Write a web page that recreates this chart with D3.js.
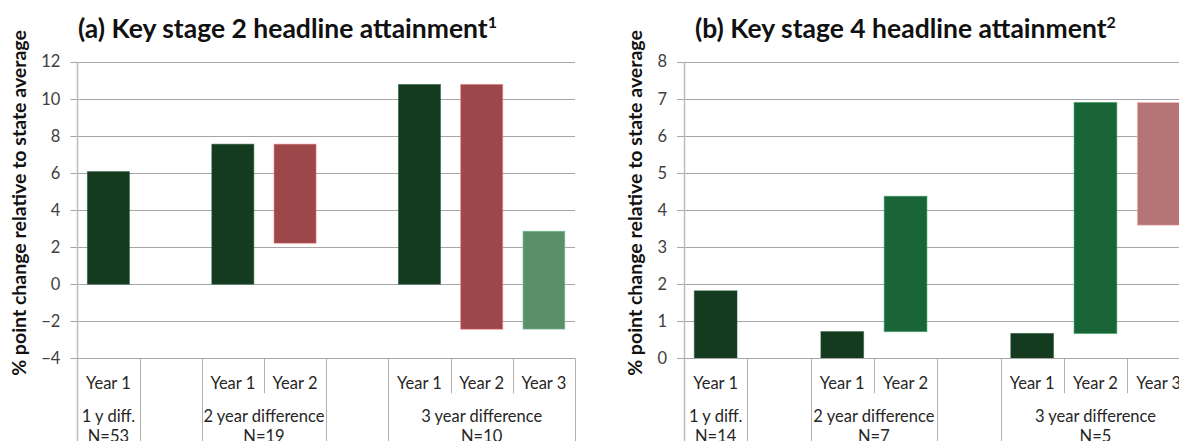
<!DOCTYPE html>
<html>
<head>
<meta charset="utf-8">
<script src="https://cdn.jsdelivr.net/npm/d3@7"></script>
<style>
  html, body { margin: 0; padding: 0; background: #fff; }
  svg { display: block; font-family: Lato, "Open Sans", sans-serif; }
</style>
</head>
<body>
<svg id="chart" width="1179" height="441"></svg>
<script>
// Slots along each category axis (blank slots separate the groups)
const slotLabels = ["Year 1", "", "Year 1", "Year 2", "", "Year 1", "Year 2", "Year 3"];
// Groups of slots on the second axis row: [first slot, slot after last]
const groupSpans = [[0, 1], [1, 2], [2, 4], [4, 5], [5, 8]];
const groupNames = ["1 y diff.", "", "2 year difference", "", "3 year difference"];
const ks2GroupN = ["N=53", "", "N=19", "", "N=10"];
const ks4GroupN = ["N=14", "", "N=7", "", "N=5"];

// Which slot each floating bar sits in
const barSlots = [0, 2, 3, 5, 6, 7];

// Key stage 2: floating bars, low and high ends (% points vs state average)
const ks2Low  = [0, 0, 2.21, 0, -2.43, -2.43];
const ks2High = [6.07, 7.55, 7.55, 10.77, 10.77, 2.86];
const ks2Ticks = [-4, -2, 0, 2, 4, 6, 8, 10, 12];

// Key stage 4
const ks4Low  = [0, 0, 0.72, 0, 0.67, 3.59];
const ks4High = [1.82, 0.72, 4.37, 0.67, 6.9, 6.9];
const ks4Ticks = [0, 1, 2, 3, 4, 5, 6, 7, 8];

const DARK = "#143a1f", RED = "#9c484a", LIGHT = "#5c8e6a", MID = "#1a6537", PINK = "#b57577";
const ks2Colors = [DARK, DARK, RED, DARK, RED, LIGHT];
const ks4Colors = [DARK, DARK, MID, DARK, MID, PINK];

const LABEL_SIZE = 16.5;

const svg = d3.select("#chart");

function panel(opts) {
  const g = svg.append("g");
  const { x0, x1, yTop, yBottom } = opts;
  const y = d3.scaleLinear().domain(d3.extent(opts.ticks)).range([yBottom, yTop]);
  const x = d3.scaleBand().domain(d3.range(slotLabels.length)).range([x0, x1])
    .paddingInner(0.325).paddingOuter(0.1625);

  // horizontal gridlines with short outer ticks
  g.append("g").selectAll("line").data(opts.ticks).join("line")
    .attr("x1", x0 - 7).attr("x2", x1)
    .attr("y1", d => Math.round(y(d)) + 0.5).attr("y2", d => Math.round(y(d)) + 0.5)
    .attr("stroke", "#a6a6a6").attr("stroke-width", 1);

  // value axis labels
  const ax = g.append("g").attr("transform", `translate(${x0},0)`)
    .call(d3.axisLeft(y).tickValues(opts.ticks).tickSize(7).tickPadding(10).tickFormat(d3.format("d")));
  ax.select(".domain").remove();
  ax.selectAll(".tick line").remove();
  ax.selectAll("text").attr("font-family", "Lato, sans-serif").attr("font-size", LABEL_SIZE).attr("fill", "#404040");

  // bars
  g.append("g").selectAll("rect").data(barSlots).join("rect")
    .attr("x", (s, i) => x(s))
    .attr("width", x.bandwidth())
    .attr("y", (s, i) => y(opts.high[i]))
    .attr("height", (s, i) => y(opts.low[i]) - y(opts.high[i]))
    .attr("fill", (s, i) => opts.colors[i])
    .attr("stroke", (s, i) => d3.color(opts.colors[i]).brighter(1.2))
    .attr("stroke-opacity", 0.55)
    .attr("stroke-width", 1);

  // vertical value axis line, continuing down through the category rows
  const step = x.step();
  g.append("line").attr("x1", Math.round(x0) + 0.5).attr("x2", Math.round(x0) + 0.5)
    .attr("y1", yTop).attr("y2", 441)
    .attr("stroke", "#bdbdbd").attr("stroke-width", 1.5);

  // category axis baseline
  g.append("line").attr("x1", x0).attr("x2", x1)
    .attr("y1", Math.round(yBottom) + 0.5).attr("y2", Math.round(yBottom) + 0.5)
    .attr("stroke", "#a6a6a6");

  // slot dividers: short inside groups, full height at group edges
  const groupEdges = new Set(groupSpans.flat());
  const dividers = d3.range(1, slotLabels.length + 1);
  g.append("g").selectAll("line").data(dividers).join("line")
    .attr("x1", d => Math.round(x0 + d * step) + 0.5)
    .attr("x2", d => Math.round(x0 + d * step) + 0.5)
    .attr("y1", yBottom)
    .attr("y2", d => groupEdges.has(d) ? 441 : yBottom + 35)
    .attr("stroke", "#b0b0b0");

  // first row: year labels
  g.append("g").selectAll("text").data(slotLabels).join("text")
    .attr("x", (d, i) => x0 + (i + 0.5) * step)
    .attr("y", yBottom + 31)
    .attr("text-anchor", "middle")
    .attr("font-size", LABEL_SIZE).attr("fill", "#262626")
    .text(d => d);

  // second row: group names and sample sizes
  const grp = g.append("g").selectAll("text").data(groupSpans).join("text")
    .attr("text-anchor", "middle")
    .attr("font-size", LABEL_SIZE).attr("fill", "#262626");
  grp.append("tspan")
    .attr("x", d => x0 + (d[0] + d[1]) / 2 * step)
    .attr("y", yBottom + 64)
    .text((d, i) => groupNames[i]);
  grp.append("tspan")
    .attr("x", d => x0 + (d[0] + d[1]) / 2 * step)
    .attr("y", yBottom + 84)
    .text((d, i) => opts.groupN[i]);

  // panel title with footnote marker
  const t = g.append("text").attr("x", opts.titleX).attr("y", 38)
    .attr("font-weight", "bold").attr("font-size", 26.5).attr("fill", "#111");
  t.append("tspan").text(opts.title);
  t.append("tspan").attr("dy", -10).attr("font-size", 16).text(opts.note);

  // value axis title
  g.append("text")
    .attr("transform", `translate(${opts.labelX},${203}) rotate(-90)`)
    .attr("text-anchor", "middle")
    .attr("font-weight", "bold").attr("font-size", 19.5).attr("fill", "#111")
    .text("% point change relative to state average");
}

panel({
  x0: 77.3, x1: 575, yTop: 61.7, yBottom: 358.3,
  ticks: ks2Ticks, low: ks2Low, high: ks2High, colors: ks2Colors,
  groupN: ks2GroupN, title: "(a) Key stage 2 headline attainment", note: "1",
  titleX: 78, labelX: 26
});

panel({
  x0: 684, x1: 684 + 8 * 63.3, yTop: 61.7, yBottom: 358.3,
  ticks: ks4Ticks, low: ks4Low, high: ks4High, colors: ks4Colors,
  groupN: ks4GroupN, title: "(b) Key stage 4 headline attainment", note: "2",
  titleX: 695, labelX: 642
});
</script>
</body>
</html>
